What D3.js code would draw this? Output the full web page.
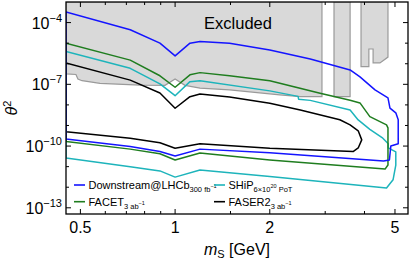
<!DOCTYPE html>
<html>
<head>
<meta charset="utf-8">
<script src="https://cdn.jsdelivr.net/npm/d3@7"></script>
<style>
  body { margin: 0; background: #fff; }
  svg { display: block; font-family: "Liberation Sans", Arial, sans-serif; }
</style>
</head>
<body>
<svg id="chart" width="415" height="262"></svg>
<script>
// axis ticks
const xTicksMajor = [0.5, 1, 2, 5];
const xTicksMinor = [0.6, 0.7, 0.8, 0.9, 1.5, 3, 4];
const yTicksMajor = [-4, -7, -10, -13];          // exponents of labelled ticks
const yTicksMinor = [-5, -6, -8, -9, -11, -12];

// sensitivity contours [m_S (GeV), theta^2], upper edge then lower edge
const downstreamLHCb = [
  [0.45, 3.3e-4], [0.72, 4.5e-5], [0.895, 1.0e-5], [1.0, 2.4e-6], [1.115, 1.0e-5],
  [1.2, 1.2e-5], [1.49, 9.8e-6], [2.0, 4.7e-6], [2.69, 1.7e-6], [3.6, 5.0e-7],
  [3.87, 2.3e-7], [4.32, 5.4e-8], [4.75, 2.2e-8], [4.82, 7e-9], [5.03, 4.1e-9],
  [5.12, 1.9e-9], [5.12, 1.3e-10], [4.85, 1.0e-10], [4.8, 2.1e-11], [4.6, 1.9e-11],
  [2.0, 4.7e-11], [1.2, 7.1e-11], [1.0, 3.3e-11], [0.895, 5.4e-11], [0.72, 9.5e-11],
  [0.45, 2.2e-10]
];
const facet = [
  [0.45, 9.9e-6], [0.72, 1.5e-6], [0.895, 2.6e-7], [1.0, 7.2e-8], [1.115, 2.9e-7],
  [1.2, 3.7e-7], [1.49, 2.6e-7], [2.0, 1.5e-7], [2.89, 3.7e-8], [3.6, 1.7e-8],
  [3.87, 1.25e-8], [4.16, 2.7e-9], [4.7, 1.07e-9], [4.75, 7.6e-10], [4.75, 1.2e-11],
  [4.65, 7.6e-12], [2.0, 2.1e-11], [1.2, 4.6e-11], [1.0, 2.1e-11], [0.895, 4.2e-11],
  [0.72, 7.1e-11], [0.45, 1.66e-10]
];
const ship = [
  [0.45, 3.9e-6], [0.72, 6.0e-7], [0.895, 1.05e-7], [1.0, 2.8e-8], [1.115, 1.35e-7],
  [1.2, 1.5e-7], [2.0, 4.8e-8], [2.46, 2.6e-8], [2.47, 1.9e-8], [2.69, 1.66e-8],
  [3.6, 5.7e-9], [3.82, 1.86e-9], [4.16, 6.5e-10], [4.55, 2.6e-10], [4.76, 1.3e-10],
  [4.76, 8.1e-11], [5.03, 5.2e-11], [5.03, 1.2e-11], [4.93, 2.3e-12], [4.7, 9.1e-13],
  [2.0, 3.3e-12], [1.2, 6.9e-12], [1.0, 3.1e-12], [0.895, 6.2e-12], [0.72, 1.0e-11],
  [0.45, 2.6e-11]
];
const faser2 = [
  [0.45, 1.1e-6], [0.72, 1.6e-7], [0.895, 3.8e-8], [1.0, 6.9e-9], [1.115, 2.5e-8],
  [1.2, 3.4e-8], [1.49, 2.4e-8], [2.0, 1.2e-8], [2.5, 5.7e-9], [3.34, 1.9e-9],
  [3.6, 1.07e-9], [3.82, 5.5e-10], [3.92, 2.0e-10], [3.82, 8.1e-11], [3.68, 5.4e-11],
  [2.0, 7.9e-11], [1.2, 1.3e-10], [1.0, 7.9e-11], [0.895, 1.44e-10], [0.72, 2.4e-10],
  [0.45, 5.0e-10]
];

// excluded regions (gray)
const excludedMain = [
  [0.45, 1e-3], [0.45, 3.2e-7], [0.484, 3.0e-7], [0.491, 1.8e-7], [0.506, 1.5e-7],
  [0.577, 1.12e-7], [0.774, 9.1e-8], [0.929, 8.9e-8], [1.0, 1.8e-7], [1.075, 8.9e-8],
  [1.2, 6.5e-8], [1.49, 5.4e-8], [2.15, 3.1e-8], [2.5, 2.5e-8], [2.93, 2.5e-8], [2.93, 1e-3]
];
const excludedBand = [[3.2, 1e-3], [3.2, 2.5e-8], [3.6, 2.5e-8], [3.6, 1e-3]];
const excludedRight = [
  [3.9, 1e-3], [3.9, 7.2e-7], [4.13, 7.2e-7], [4.13, 5.2e-6], [4.26, 5.2e-6],
  [4.26, 1.1e-6], [4.48, 1.1e-6], [4.75, 2.1e-6], [4.75, 1e-3]
];

const curves = [
  { name: "Downstream@LHCb", sub: "300 fb", subSup: "−1", pts: downstreamLHCb, color: "#1414ff" },
  { name: "FACET", sub: "3 ab", subSup: "−1", pts: facet, color: "#1f7d1f" },
  { name: "SHiP", sub: "6×10", subSup: "20", subTail: " PoT", pts: ship, color: "#1db4bb" },
  { name: "FASER2", sub: "3 ab", subSup: "−1", pts: faser2, color: "#000000" }
];

const pLeft = 66, pRight = 408, pTop = 2, pBottom = 214;

const svg = d3.select("#chart");

const x = d3.scaleLog().domain([0.45, 5.5]).range([pLeft, pRight]);
const y = d3.scaleLog().domain([5e-14, 1e-3]).range([pBottom, pTop]);

svg.append("defs").append("clipPath").attr("id", "plot-clip")
  .append("rect")
  .attr("x", pLeft).attr("y", pTop)
  .attr("width", pRight - pLeft).attr("height", pBottom - pTop);

const plot = svg.append("g").attr("clip-path", "url(#plot-clip)");

const line = d3.line().x(d => x(d[0])).y(d => y(d[1]));

// gray excluded areas
[excludedMain, excludedBand, excludedRight].forEach(poly => {
  plot.append("path")
    .attr("d", line(poly) + "Z")
    .attr("fill", "#d9d9d9")
    .attr("stroke", "#9a9a9a")
    .attr("stroke-width", 1.2);
});

plot.append("text")
  .attr("x", 238).attr("y", 29)
  .attr("text-anchor", "middle")
  .attr("font-size", 16.5)
  .text("Excluded");

// contours, black drawn first so others overlay
[curves[3], curves[2], curves[1], curves[0]].forEach(c => {
  plot.append("path")
    .attr("d", line(c.pts) + "Z")
    .attr("fill", "none")
    .attr("stroke", c.color)
    .attr("stroke-width", 1.5)
    .attr("stroke-linejoin", "round");
});

// frame
svg.append("rect")
  .attr("x", pLeft).attr("y", pTop)
  .attr("width", pRight - pLeft).attr("height", pBottom - pTop)
  .attr("fill", "none").attr("stroke", "#000").attr("stroke-width", 1.3);

// ticks (inward, mirrored)
const ticks = svg.append("g").attr("stroke", "#000").attr("stroke-width", 1);
xTicksMajor.concat(xTicksMinor).forEach(v => {
  const len = xTicksMajor.includes(v) ? 5 : 3;
  ticks.append("line").attr("x1", x(v)).attr("x2", x(v)).attr("y1", pBottom).attr("y2", pBottom - len);
  ticks.append("line").attr("x1", x(v)).attr("x2", x(v)).attr("y1", pTop).attr("y2", pTop + len);
});
yTicksMajor.concat(yTicksMinor).forEach(e => {
  const len = yTicksMajor.includes(e) ? 5 : 3;
  const yy = y(Math.pow(10, e));
  ticks.append("line").attr("x1", pLeft).attr("x2", pLeft + len).attr("y1", yy).attr("y2", yy);
  ticks.append("line").attr("x1", pRight).attr("x2", pRight - len).attr("y1", yy).attr("y2", yy);
});

// x tick labels
xTicksMajor.forEach(v => {
  svg.append("text")
    .attr("x", x(v)).attr("y", 233)
    .attr("text-anchor", "middle")
    .attr("font-size", 16)
    .text(v);
});

// y tick labels 10^e
yTicksMajor.forEach(e => {
  const t = svg.append("text")
    .attr("x", 62).attr("y", y(Math.pow(10, e)) + 6)
    .attr("text-anchor", "end")
    .attr("font-size", 16);
  t.append("tspan").text("10");
  t.append("tspan").attr("font-size", 11).attr("dy", -7).text("−" + Math.abs(e));
});

// axis titles
const xt = svg.append("text")
  .attr("x", 237).attr("y", 255)
  .attr("text-anchor", "middle")
  .attr("font-size", 16);
xt.append("tspan").attr("font-style", "italic").text("m");
xt.append("tspan").attr("font-size", 11).attr("dy", 3).text("S");
xt.append("tspan").attr("dy", -3).text(" [GeV]");

const yt = svg.append("text")
  .attr("transform", "translate(17,108) rotate(-90)")
  .attr("text-anchor", "middle")
  .attr("font-size", 16);
yt.append("tspan").attr("font-style", "italic").text("θ");
yt.append("tspan").attr("font-size", 11).attr("dy", -6).text("2");

// legend
const legendPos = [[74, 185], [74, 201.7], [214, 185], [214, 201.7]];
[curves[0], curves[1], curves[2], curves[3]].forEach((c, i) => {
  const [lx, ly] = legendPos[i];
  svg.append("line")
    .attr("x1", lx).attr("x2", lx + 11)
    .attr("y1", ly).attr("y2", ly)
    .attr("stroke", c.color).attr("stroke-width", 1.6);
  const t = svg.append("text")
    .attr("x", lx + 14.5).attr("y", ly + 4)
    .attr("font-size", 11);
  t.append("tspan").text(c.name);
  t.append("tspan").attr("font-size", 7.5).attr("dy", 3).text(c.sub);
  t.append("tspan").attr("font-size", 5.5).attr("dy", -4).text(c.subSup);
  if (c.subTail) t.append("tspan").attr("font-size", 7.5).attr("dy", 4).text(c.subTail);
});
</script>
</body>
</html>
